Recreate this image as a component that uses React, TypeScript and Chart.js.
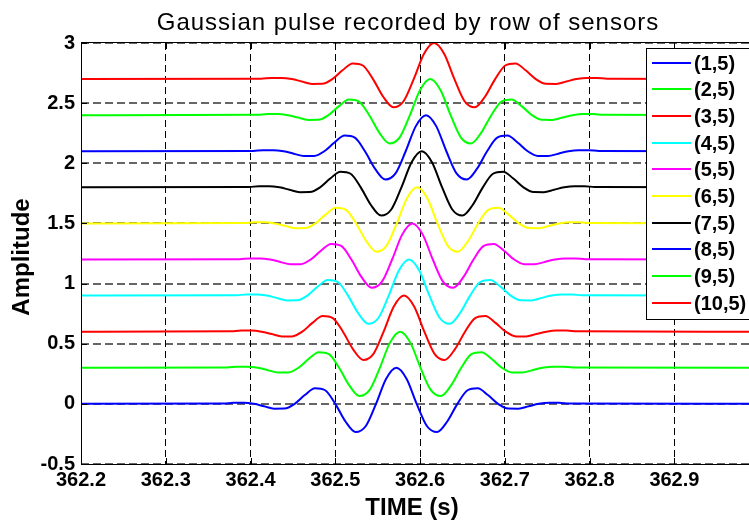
import React, { useEffect, useRef } from "react";
import { Chart, registerables } from "chart.js";

Chart.register(...registerables);

const TITLE = "Gaussian pulse recorded by row of sensors";
const X_LABEL = "TIME (s)";
const Y_LABEL = "Amplitude";

const SENSORS = ["(1,5)", "(2,5)", "(3,5)", "(4,5)", "(5,5)", "(6,5)", "(7,5)", "(8,5)", "(9,5)", "(10,5)"];
const COLORS = ["#0000ff", "#00ff00", "#ff0000", "#00ffff", "#ff00ff", "#ffff00", "#000000", "#0000ff", "#00ff00", "#ff0000"];
const BASELINES = [0, 0.3, 0.6, 0.9, 1.2, 1.5, 1.8, 2.1, 2.4, 2.7];
const PULSE_CENTERS = [362.572, 362.5765, 362.581, 362.587, 362.591, 362.5965, 362.602, 362.607, 362.612, 362.6165];

// pulse shape: time offset from the pulse centre (s) and amplitude
const PULSE_OFFSETS = [
  -0.204, -0.192, -0.18, -0.168, -0.156, -0.144, -0.132, -0.12, -0.108, -0.096, -0.084, -0.072,
  -0.06, -0.048, -0.036, -0.024, -0.012, 0, 0.012, 0.024, 0.036, 0.048, 0.06, 0.072,
  0.084, 0.096, 0.108, 0.12, 0.132, 0.144, 0.156, 0.168, 0.18, 0.192, 0.204,
];
const PULSE_SHAPE = [
  0.003, 0.009, 0.009, 0, -0.02, -0.04, -0.039, 0, 0.073, 0.13, 0.113, 0,
  -0.147, -0.235, -0.184, 0, 0.209, 0.3, 0.209, 0, -0.184, -0.235, -0.147, 0,
  0.113, 0.13, 0.073, 0, -0.039, -0.04, -0.02, 0, 0.009, 0.009, 0.003,
];

const X_MIN = 362.2;
const X_MAX = 362.988;
const Y_MIN = -0.5;
const Y_MAX = 3;
const X_TICKS = [362.2, 362.3, 362.4, 362.5, 362.6, 362.7, 362.8, 362.9];
const Y_TICKS = [-0.5, 0, 0.5, 1, 1.5, 2, 2.5, 3];

const FONT = '"Liberation Sans", Arial, Helvetica, sans-serif';

const textPlugin = {
  id: "texts",
  afterDraw(chart: any) {
    const { ctx } = chart;
    ctx.save();
    ctx.fillStyle = "#000";
    ctx.textAlign = "center";
    ctx.textBaseline = "middle";
    ctx.font = `normal 24px ${FONT}`;
    try { (ctx as any).letterSpacing = "1px"; } catch (e) {}
    ctx.fillText(TITLE, 408, 23);
    try { (ctx as any).letterSpacing = "0px"; } catch (e) {}
    ctx.font = `bold 24px ${FONT}`;
    ctx.fillText(X_LABEL, 412, 508);
    ctx.translate(22, 257);
    ctx.rotate(-Math.PI / 2);
    ctx.fillText(Y_LABEL, 0, 0);
    ctx.restore();
  },
};

const framePlugin = {
  id: "frame",
  afterDatasetsDraw(chart: any) {
    const { ctx, chartArea: a, scales } = chart;
    ctx.save();
    ctx.strokeStyle = "#000";
    ctx.lineWidth = 1;
    ctx.setLineDash([]);
    ctx.beginPath();
    ctx.moveTo(a.left + 0.5, a.top - 0.5);
    ctx.lineTo(a.left + 0.5, a.bottom + 0.5);
    ctx.moveTo(a.left, a.bottom + 0.5);
    ctx.lineTo(a.right, a.bottom + 0.5);
    ctx.moveTo(a.left, a.top - 0.5);
    ctx.lineTo(a.right, a.top - 0.5);
    for (const v of X_TICKS) {
      const px = Math.round(scales.x.getPixelForValue(v)) + 0.5;
      ctx.moveTo(px, a.bottom);
      ctx.lineTo(px, a.bottom - 6);
      ctx.moveTo(px, a.top);
      ctx.lineTo(px, a.top + 6);
    }
    for (const v of Y_TICKS) {
      const py = Math.round(scales.y.getPixelForValue(v)) + 0.5;
      ctx.moveTo(a.left, py);
      ctx.lineTo(a.left + 6, py);
    }
    ctx.stroke();
    ctx.restore();
  },
  afterDraw(chart: any) {
    const { ctx } = chart;
    ctx.save();
    ctx.fillStyle = "#fff";
    ctx.fillRect(646, 48, 140, 271);
    ctx.strokeStyle = "#000";
    ctx.lineWidth = 1;
    ctx.strokeRect(646.5, 48.5, 140, 271);
    ctx.font = `bold 20px ${FONT}`;
    ctx.textAlign = "left";
    ctx.textBaseline = "middle";
    SENSORS.forEach((name, i) => {
      const y = Math.round(62.7 + i * 26.67);
      ctx.strokeStyle = COLORS[i];
      ctx.lineWidth = 2;
      ctx.beginPath();
      ctx.moveTo(652, y);
      ctx.lineTo(691, y);
      ctx.stroke();
      ctx.fillStyle = "#000";
      ctx.fillText(name, 694, y + 1);
    });
    ctx.restore();
  },
};

export default function App() {
  const ref = useRef<HTMLCanvasElement | null>(null);

  useEffect(() => {
    document.body.style.margin = "0";
    const canvas = ref.current;
    if (!canvas) return;
    const datasets = SENSORS.map((name, i) => ({
      label: name,
      data: [
        { x: X_MIN, y: BASELINES[i] },
        ...PULSE_OFFSETS.map((off, k) => ({ x: PULSE_CENTERS[i] + off, y: BASELINES[i] + PULSE_SHAPE[k] })),
        { x: X_MAX, y: BASELINES[i] },
      ],
      borderColor: COLORS[i],
      backgroundColor: COLORS[i],
      borderWidth: 2,
      pointRadius: 0,
      cubicInterpolationMode: "monotone" as const,
      fill: false,
      order: SENSORS.length - i,
    }));

    const chart = new Chart(canvas, {
      type: "line",
      data: { datasets },
      options: {
        responsive: false,
        animation: false,
        devicePixelRatio: 1,
        layout: { padding: { top: 43, left: 0, right: 0, bottom: 0 } },
        plugins: {
          legend: { display: false },
          title: { display: false },
          tooltip: { enabled: false },
        },
        scales: {
          x: {
            type: "linear",
            min: X_MIN,
            max: X_MAX,
            afterBuildTicks: (s: any) => {
              s.ticks = X_TICKS.map((v) => ({ value: v }));
            },
            afterFit: (s: any) => {
              s.height = 59;
            },
            ticks: {
              autoSkip: false,
              maxRotation: 0,
              minRotation: 0,
              padding: 4,
              color: "#000",
              font: { family: FONT, size: 20, weight: "bold" },
              callback: (v: any) => Number(v).toFixed(1),
            },
            grid: { color: "#000", lineWidth: 1, drawTicks: false },
            border: { display: false, dash: [7, 4] },
          },
          y: {
            type: "linear",
            min: Y_MIN,
            max: Y_MAX,
            afterBuildTicks: (s: any) => {
              s.ticks = Y_TICKS.map((v) => ({ value: v }));
            },
            afterFit: (s: any) => {
              s.width = 81;
            },
            ticks: {
              padding: 6,
              color: "#000",
              font: { family: FONT, size: 20, weight: "bold" },
              callback: (v: any) => String(Number(Number(v).toFixed(2))),
            },
            grid: { color: "rgba(0,0,0,0.6)", lineWidth: 2, drawTicks: false },
            border: { display: false, dash: [8, 4] },
          },
        },
      },
      plugins: [framePlugin, textPlugin],
    });
    return () => chart.destroy();
  }, []);

  return (
    <div style={{ position: "absolute", left: 0, top: 0, width: 749, height: 523, background: "#fff" }}>
      <canvas ref={ref} width={749} height={523} style={{ display: "block", width: 749, height: 523 }} />
    </div>
  );
}
